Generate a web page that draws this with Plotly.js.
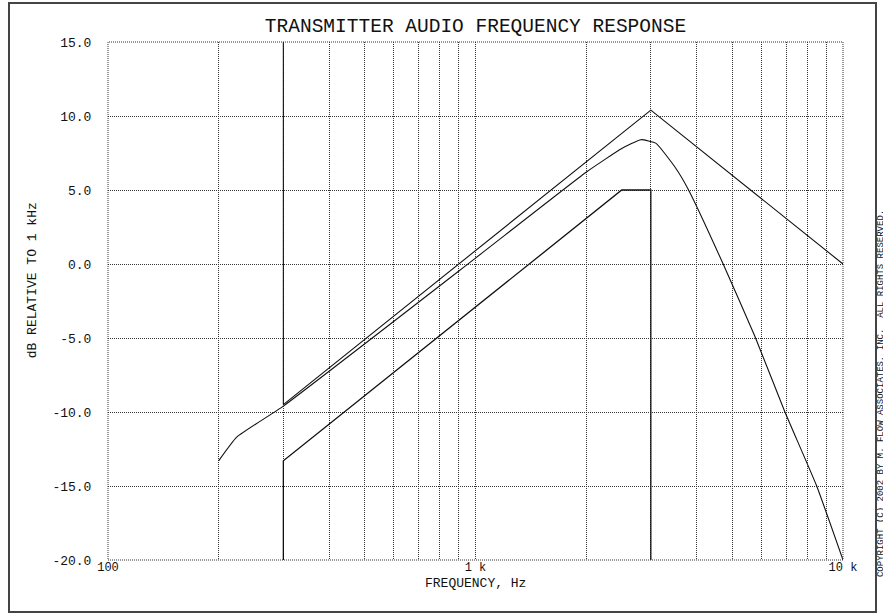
<!DOCTYPE html>
<html>
<head>
<meta charset="utf-8">
<script src="https://cdn.plot.ly/plotly-3.0.1.min.js"></script>
<style>
  html, body { margin: 0; padding: 0; background: #fff; }
  #wrap { position: relative; width: 883px; height: 613px; overflow: hidden; }
  #chart { position: absolute; left: 0; top: 0; width: 883px; height: 613px; }
  #frame { position: absolute; left: 8px; top: 2px; width: 865px; height: 607px;
           border: 2px solid #444; pointer-events: none; }
</style>
</head>
<body>
<div id="wrap">
  <div id="chart"></div>
  <div id="frame"></div>
</div>
<script>
// Upper limit mask (dB relative to 1 kHz)
const upperFreq = [300, 300, 3000, 10000];
const upperDb   = [15, -9.5, 10.4, 0.0];

// Lower limit mask
const lowerFreq = [300, 300, 2500, 3000, 3000];
const lowerDb   = [-20, -13.3, 5.0, 5.0, -20];

// Measured transmitter response
const respFreq = [200, 224, 300, 1000, 2000, 2500, 2820, 3100, 3500, 3800, 4720, 5760, 6950, 8480, 10000];
const respDb   = [-13.3, -11.7, -9.6, 0.4, 6.2, 7.8, 8.4, 8.15, 6.5, 5.0, 0.0, -4.9, -10.0, -15.0, -20.0];

// Axis ticks
const xTickVals = [100,200,300,400,500,600,700,800,900,1000,2000,3000,4000,5000,6000,7000,8000,9000,10000];
const xTickText = ['100','','','','','','','','','1 k','','','','','','','','','10 k'];
const yTickVals = [-20, -15, -10, -5, 0, 5, 10, 15];
const yTickText = ['-20.0', '-15.0', '-10.0', '-5.0', '0.0', '5.0', '10.0', '15.0'];

const titleText = 'TRANSMITTER AUDIO FREQUENCY RESPONSE';
const xTitle = 'FREQUENCY, Hz';
const yTitle = 'dB RELATIVE TO 1 kHz';
const copyright = 'COPYRIGHT (C) 2002 BY M. FLOW ASSOCIATES, INC.  ALL RIGHTS RESERVED.';

const FONT = 'Liberation Mono, DejaVu Sans Mono, monospace';
const lineStyle = {color: '#111', width: 1.1};

const traces = [
  {x: upperFreq, y: upperDb, mode: 'lines', line: lineStyle, hoverinfo: 'skip'},
  {x: lowerFreq, y: lowerDb, mode: 'lines', line: {color: '#111', width: 1.3}, hoverinfo: 'skip'},
  {x: respFreq, y: respDb, mode: 'lines', line: {color: '#111', width: 1.1, shape: 'spline', smoothing: 0.4}, hoverinfo: 'skip'}
];

const layout = {
  width: 883, height: 613,
  margin: {l: 108, r: 40, t: 42, b: 53},
  paper_bgcolor: '#fff', plot_bgcolor: '#fff',
  showlegend: false,
  font: {family: FONT, color: '#111', size: 13},
  title: {text: titleText, font: {family: FONT, size: 19.5, color: '#111'},
          x: 0.5, xref: 'paper', xanchor: 'center', y: 0.959, yref: 'container', yanchor: 'middle'},
  xaxis: {
    type: 'log', range: [2, 4],
    tickmode: 'array', tickvals: xTickVals, ticktext: xTickText,
    showgrid: true, gridcolor: '#333', gridwidth: 1, griddash: '1px,1px',
    zeroline: false, showline: false, ticks: '', ticklabelstandoff: -2,
    tickfont: {family: FONT, size: 12, color: '#111'},
    fixedrange: true
  },
  yaxis: {
    range: [-20, 15],
    tickmode: 'array', tickvals: yTickVals, ticktext: yTickText,
    showgrid: true, gridcolor: '#333', gridwidth: 1, griddash: '1px,1px',
    zeroline: false, showline: false,
    ticks: 'outside', ticklen: 13, tickcolor: 'rgba(0,0,0,0)',
    tickfont: {family: FONT, size: 13, color: '#111'},
    fixedrange: true
  },
  shapes: [
    {type: 'rect', xref: 'paper', yref: 'paper', x0: 0, x1: 1, y0: 0, y1: 1,
     line: {color: '#333', width: 1, dash: '1px,1px'}}
  ],
  annotations: [
    {text: xTitle, xref: 'paper', yref: 'paper', x: 0.5, y: -0.046,
     xanchor: 'center', yanchor: 'middle', showarrow: false,
     font: {family: FONT, size: 13, color: '#111'}},
    {text: yTitle, xref: 'paper', yref: 'paper', x: -0.1034, y: 0.54,
     xanchor: 'center', yanchor: 'middle', textangle: -90, showarrow: false,
     font: {family: FONT, size: 13, color: '#111'}},
    {text: copyright, xref: 'paper', yref: 'paper', x: 1.0515, y: 0.322,
     xanchor: 'center', yanchor: 'middle', textangle: -90, showarrow: false,
     font: {family: FONT, size: 9, color: '#111'}}
  ]
};

Plotly.newPlot('chart', traces, layout, {staticPlot: true, displayModeBar: false});
</script>
</body>
</html>
